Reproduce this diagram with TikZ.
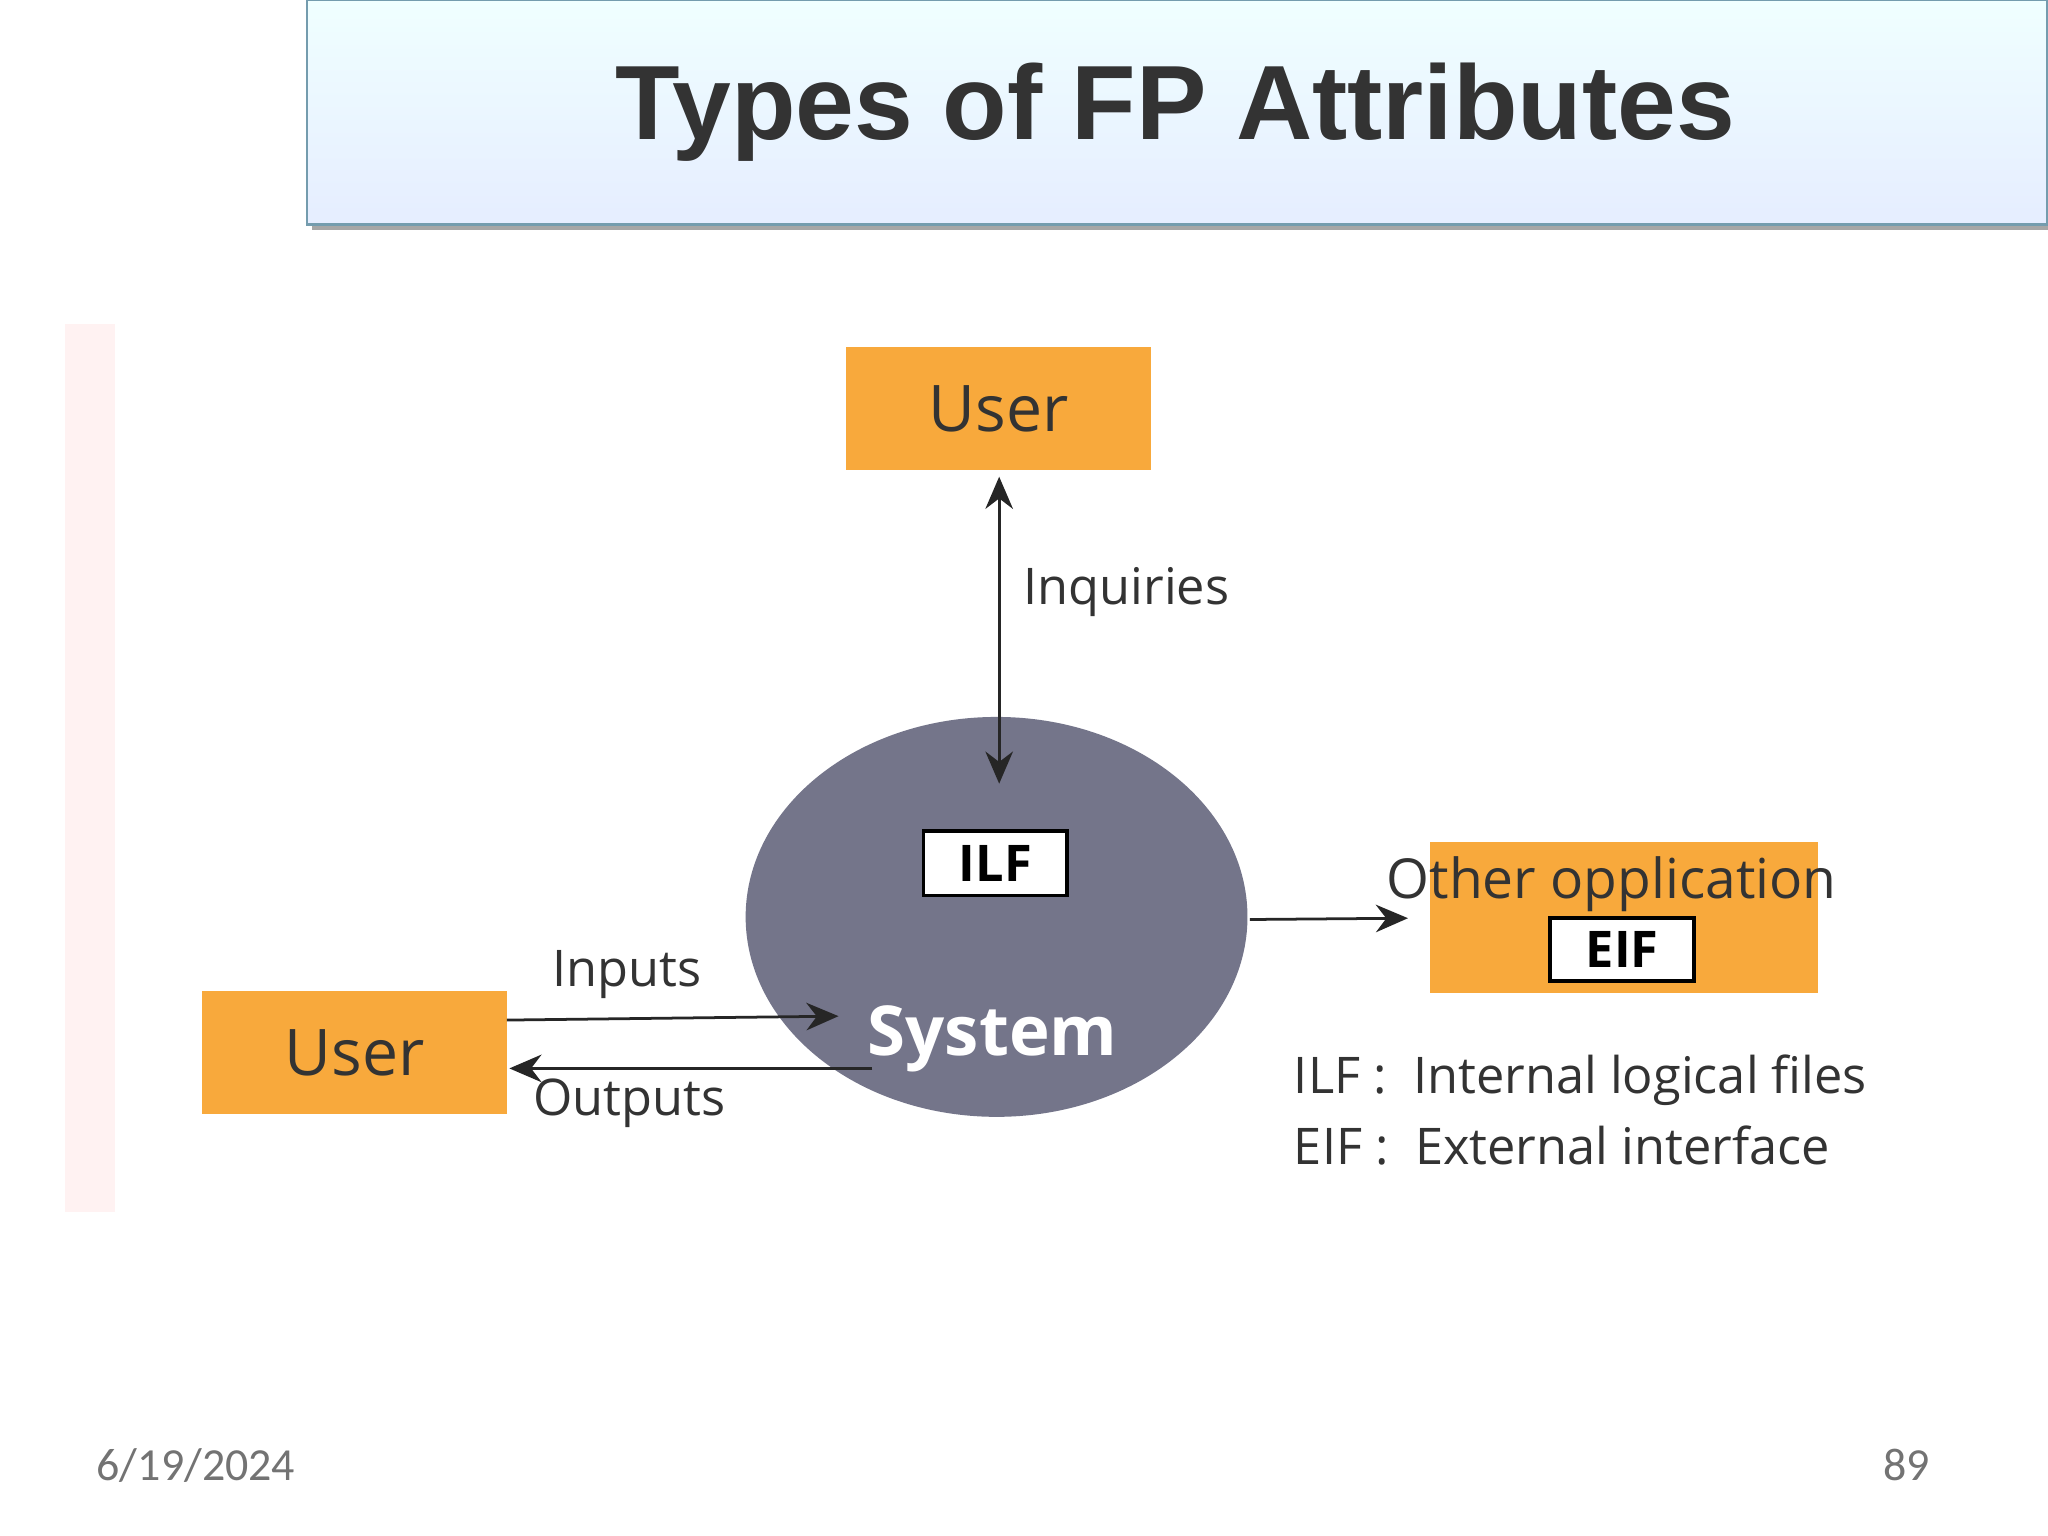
\documentclass[tikz,border=0pt]{standalone}
\usepackage{fontspec}
\setmainfont{Open Sans}
\newfontfamily\titlefont{Liberation Sans}
\newfontfamily\footfont{Carlito}
\usetikzlibrary{arrows.meta,shapes.geometric,shadows}
\definecolor{org}{HTML}{F8A93C}
\definecolor{sys}{HTML}{74758A}
\definecolor{txt}{HTML}{333333}
\tikzset{
 obox/.style={rectangle,fill=org,inner sep=0,text=txt,font=\fontsize{14}{16}\selectfont},
 wbox/.style={rectangle,fill=white,draw=black,line width=0.8pt,inner sep=0,font=\bfseries\fontsize{11}{13}\selectfont},
 lbl/.style={text=txt,font=\fontsize{11}{13}\selectfont,inner sep=0},
 arr/.style={-{Stealth[length=7pt,width=6pt]},line width=0.6pt,draw=black!85},
}
\begin{document}
\begin{tikzpicture}[x=0.01cm,y=-0.01cm]
\useasboundingbox (0,0) rectangle (1568,1176);
\fill[white] (0,0) rectangle (1568,1176);
% title
\fill[black!35] (239,4) rectangle (1568,176);
\shade[top color=cyan!6,bottom color=cyan!30!blue!10!white,draw=cyan!50!black!70,line width=0.6pt] (235,0) rectangle (1567.5,172);
\node[font=\titlefont\bfseries\fontsize{23}{27}\selectfont,text=black!80] (title) at (900,86) {Types of FP Attributes};
\fill[red!5] (50,248) rectangle (88,928);
% nodes
\node[obox,minimum width=2.33cm,minimum height=0.94cm] (utop) at (764.5,313) {User};
\node[ellipse,fill=sys,minimum width=3.84cm,minimum height=3.06cm,inner sep=0] (sys) at (763,702) {};
\node[wbox,minimum width=1.1cm,minimum height=0.49cm] (ilf) at (762,661) {ILF};
\node[text=white,font=\bfseries\fontsize{15}{17}\selectfont] (systxt) at (760,795) {System};
\node[obox,minimum width=2.33cm,minimum height=0.94cm] (uleft) at (271.5,806) {User};
\node[obox,minimum width=2.97cm,minimum height=1.15cm] (other) at (1243.5,702.5) {};
\node[lbl,font=\fontsize{12}{14}\selectfont] (othertxt) at (1234,677) {Other opplication};
\node[wbox,minimum width=1.1cm,minimum height=0.48cm] (eif) at (1242,727) {EIF};
% arrows
\coordinate (qa) at (765,365); \coordinate (qb) at (765,600);
\draw[{Stealth[length=7pt,width=6pt]}-{Stealth[length=7pt,width=6pt]},line width=0.6pt,draw=black!85] (qa) -- (qb);
\node[lbl,anchor=west] (inq) at (783,453) {Inquiries};
\coordinate (ia) at (388,781); \coordinate (ib) at (642,778);
\draw[arr] (ia) -- (ib);
\node[lbl] (inp) at (480,746) {Inputs};
\coordinate (oa) at (668,818); \coordinate (ob) at (390,818);
\draw[arr] (oa) -- (ob);
\node[lbl] (outp) at (482,845) {Outputs};
\coordinate (ea) at (957,704); \coordinate (eb) at (1078,703);
\draw[arr] (ea) -- (eb);
\node[lbl,anchor=west] (l1) at (990,827) {ILF :\ \ Internal logical files};
\node[lbl,anchor=west] (l2) at (990,877) {EIF :\ \ External interface};
\node[font=\footfont\fontsize{10}{12}\selectfont,text=black!55] (date) at (150,1122) {6/19/2024};
\node[font=\footfont\fontsize{10}{12}\selectfont,text=black!55] (pg) at (1460,1122) {89};
\end{tikzpicture}
\end{document}
